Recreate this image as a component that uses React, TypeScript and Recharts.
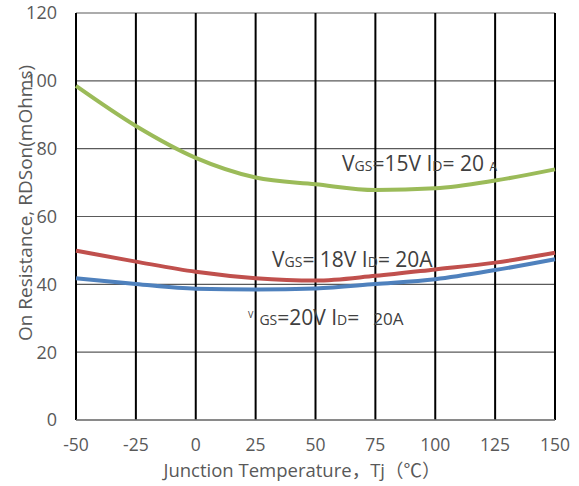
import React from "react";
import {
  LineChart,
  Line,
  XAxis,
  YAxis,
  CartesianGrid,
  Customized,
} from "recharts";

// junction temperature (°C)
const temps = [-50, -25, 0, 25, 50, 75, 100, 125, 150];
// RDSon (mOhms) per gate voltage
const vgs15 = [98.5, 86.7, 77.3, 71.5, 69.5, 67.8, 68.3, 70.6, 73.9];
const vgs18 = [49.9, 46.7, 43.7, 41.8, 41.1, 42.5, 44.4, 46.4, 49.3];
const vgs20 = [41.8, 40.1, 38.7, 38.5, 38.8, 40.1, 41.5, 44.2, 47.4];

const xTicks = [-50, -25, 0, 25, 50, 75, 100, 125, 150];
const yTicks = [0, 20, 40, 60, 80, 100, 120];

const data = temps.map((t, i) => ({
  t,
  v15: vgs15[i],
  v18: vgs18[i],
  v20: vgs20[i],
}));

const FONT = '"Open Sans", "Noto Sans CJK SC", sans-serif';
const TEXT = "#404040";

if (typeof document !== "undefined") document.body.style.margin = "0";

function Annotations() {
  const big = 21;
  const sub = 14;
  return (
    <g fontFamily={FONT} fill={TEXT}>
      <text x={342} y={171} fontSize={big}>
        V<tspan fontSize={sub}>GS</tspan>=15V I<tspan fontSize={sub}>D</tspan>= 20{" "}
        <tspan fontSize={12}>A</tspan>
      </text>
      <text x={272} y={267} fontSize={big}>
        V<tspan fontSize={sub}>GS</tspan>= 18V I<tspan fontSize={sub}>D</tspan>= 20A
      </text>
      <text x={248} y={325} fontSize={big}>
        <tspan fontSize={9} dy={-7}>V</tspan>
        <tspan fontSize={sub} dy={7} dx={6}>GS</tspan>=20V I
        <tspan fontSize={sub}>D</tspan>=
        <tspan dx={14} fontSize={17}>20A</tspan>
      </text>
      <text
        x={0}
        y={0}
        fontSize={19}
        textAnchor="middle"
        fill="#595959"
        transform="translate(32 203) rotate(-90)"
      >
        On Resistance, RDSon(mOhms)
      </text>
      <text x={302} y={477} fontSize={18.5} textAnchor="middle" fill="#595959">
        Junction Temperature，Tj（℃）
      </text>
    </g>
  );
}

export default function App() {
  return (
    <div style={{ width: 579, height: 486, background: "#fff" }}>
      <LineChart
        width={579}
        height={486}
        data={data}
        margin={{ top: 13, right: 24, bottom: 16, left: 20 }}
      >
        <CartesianGrid vertical={false} stroke="#5a5a5a" strokeWidth={1.2} />
        <CartesianGrid horizontal={false} stroke="#000" strokeWidth={2} />
        <XAxis
          dataKey="t"
          type="number"
          domain={[-50, 150]}
          ticks={xTicks}
          interval={0}
          height={50}
          tickLine={false}
          tickSize={0}
          tickMargin={19}
          axisLine={{ stroke: "#7f7f7f", strokeWidth: 1.5 }}
          tick={{ fontSize: 17.5, fill: "#595959", fontFamily: FONT }}
        />
        <YAxis
          type="number"
          domain={[0, 120]}
          ticks={yTicks}
          interval={0}
          width={56}
          tickLine={false}
          tickSize={0}
          tickMargin={19}
          axisLine={false}
          tick={{ fontSize: 18, fill: "#595959", fontFamily: FONT }}
        />
        <Line
          type="monotone"
          dataKey="v15"
          stroke="#9BBB59"
          strokeWidth={4}
          dot={false}
          isAnimationActive={false}
        />
        <Line
          type="monotone"
          dataKey="v18"
          stroke="#C0504D"
          strokeWidth={4}
          dot={false}
          isAnimationActive={false}
        />
        <Line
          type="monotone"
          dataKey="v20"
          stroke="#4F81BD"
          strokeWidth={4}
          dot={false}
          isAnimationActive={false}
        />
        <Customized component={<Annotations />} />
      </LineChart>
    </div>
  );
}
